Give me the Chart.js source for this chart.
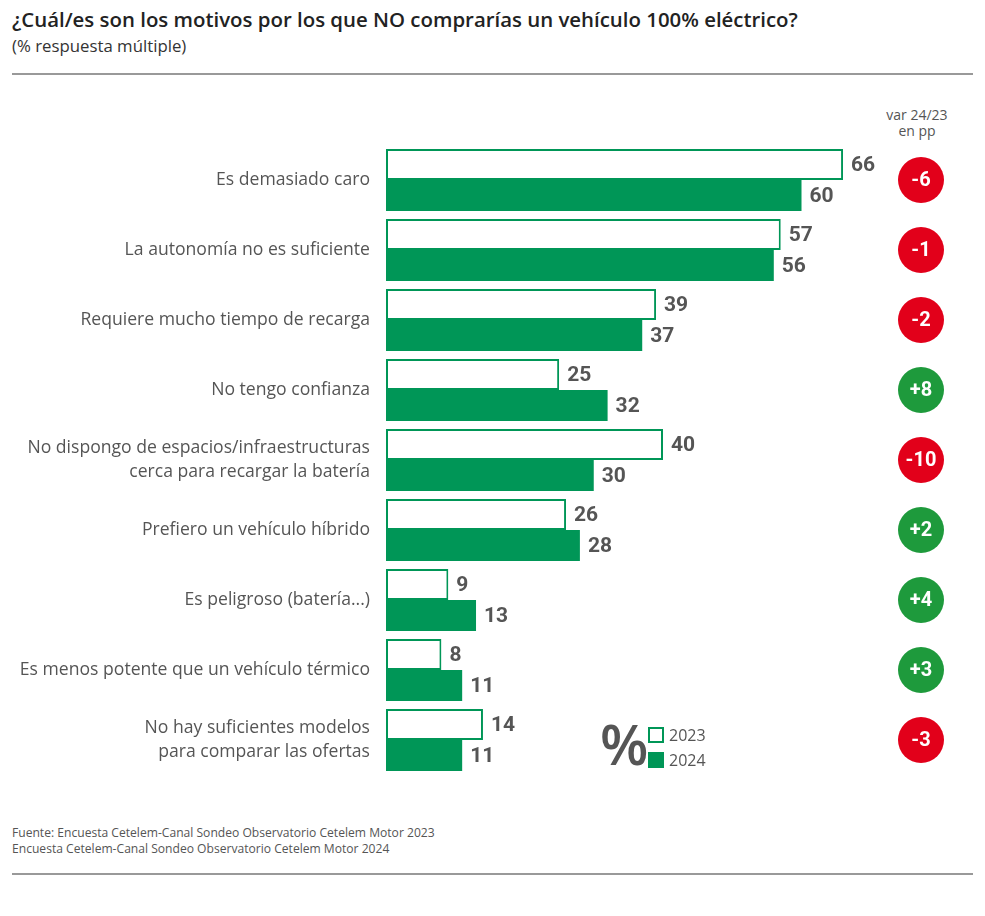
<!DOCTYPE html>
<html>
<head>
<meta charset="utf-8">
<script src="https://cdn.jsdelivr.net/npm/chart.js@4"></script>
<style>
  html,body{margin:0;padding:0;background:#fff;}
  body{width:985px;height:916px;position:relative;overflow:hidden;font-family:"Open Sans",sans-serif;}
  #title{position:absolute;left:12px;top:5px;font-size:20.4px;font-weight:600;color:#222;white-space:nowrap;}
  #sub{position:absolute;left:12px;top:34px;font-size:16.8px;color:#333;white-space:nowrap;}
  .hr{position:absolute;left:12px;width:961px;height:2px;background:#999;}
  #foot{position:absolute;left:12px;top:825px;font-size:12.1px;line-height:16px;color:#555;white-space:nowrap;}
  #varh{position:absolute;left:872px;width:90px;top:107px;text-align:center;font-size:14px;line-height:16px;color:#555;}
  #cwrap{position:absolute;left:0;top:100px;width:985px;height:700px;}
  #pct{position:absolute;left:600px;top:708px;font-size:56px;line-height:70px;color:#555;font-weight:600;}
  .lg{position:absolute;left:648px;width:16px;height:16px;box-sizing:border-box;border:2px solid #009657;}
  .lt{position:absolute;left:669px;font-size:16px;line-height:18px;color:#555;}
</style>
</head>
<body>
<div id="title">¿Cuál/es son los motivos por los que NO comprarías un vehículo 100% eléctrico?</div>
<div id="sub">(% respuesta múltiple)</div>
<div class="hr" style="top:73px"></div>
<div id="varh">var 24/23<br>en pp</div>
<div id="cwrap"><canvas id="c" width="985" height="700"></canvas></div>
<div id="pct">%</div>
<div class="lg" style="top:727px;background:#fff"></div>
<div class="lt" style="top:726px">2023</div>
<div class="lg" style="top:752px;background:#009657"></div>
<div class="lt" style="top:751px">2024</div>
<div id="foot">Fuente: Encuesta Cetelem-Canal Sondeo Observatorio Cetelem Motor 2023<br>Encuesta Cetelem-Canal Sondeo Observatorio Cetelem Motor 2024</div>
<div class="hr" style="top:873px"></div>
<script>
const categories = [
  "Es demasiado caro",
  "La autonomía no es suficiente",
  "Requiere mucho tiempo de recarga",
  "No tengo confianza",
  ["No dispongo de espacios/infraestructuras", "cerca para recargar la batería"],
  "Prefiero un vehículo híbrido",
  "Es peligroso (batería...)",
  "Es menos potente que un vehículo térmico",
  ["No hay suficientes modelos", "para comparar las ofertas"]
];
const values2023 = [66, 57, 39, 25, 40, 26, 9, 8, 14];
const values2024 = [60, 56, 37, 32, 30, 28, 13, 11, 11];
const variation = [-6, -1, -2, 8, -10, 2, 4, 3, -3];

const GREEN = "#009657";
const labelPlugin = {
  id: "labels",
  afterDatasetsDraw(chart) {
    const ctx = chart.ctx;
    ctx.save();
    ctx.font = "bold 21px Roboto, sans-serif";
    ctx.fillStyle = "#555";
    ctx.textAlign = "left";
    ctx.textBaseline = "middle";
    chart.data.datasets.forEach((ds, di) => {
      const meta = chart.getDatasetMeta(di);
      meta.data.forEach((el, i) => {
        ctx.fillText(String(ds.data[i]), el.x + 8, el.y + 1);
      });
    });
    const ys = chart.scales.y;
    const cx = chart.chartArea.right - 19;
    variation.forEach((v, i) => {
      const cy = ys.getPixelForValue(i);
      ctx.beginPath();
      ctx.arc(cx, cy, 23, 0, Math.PI * 2);
      ctx.fillStyle = v < 0 ? "#e2001a" : "#1e9a3c";
      ctx.fill();
      ctx.fillStyle = "#fff";
      ctx.font = "bold 20px Roboto, sans-serif";
      ctx.textAlign = "center";
      ctx.fillText((v > 0 ? "+" : "") + v, cx, cy + 1);
    });
    ctx.restore();
  }
};

new Chart(document.getElementById("c"), {
  type: "bar",
  data: {
    labels: categories,
    datasets: [
      { label: "2023", data: values2023, backgroundColor: "#fff", borderColor: GREEN, borderWidth: 2, borderSkipped: false },
      { label: "2024", data: values2024, backgroundColor: GREEN, borderColor: GREEN, borderWidth: 0 }
    ]
  },
  options: {
    indexAxis: "y",
    responsive: false,
    animation: false,
    layout: { padding: { top: 45, bottom: 25, left: 0, right: 45 } },
    datasets: { bar: { categoryPercentage: 0.886, barPercentage: 1.0 } },
    plugins: { legend: { display: false }, tooltip: { enabled: false } },
    scales: {
      x: { display: false, min: 0, max: 80, grid: { display: false } },
      y: {
        grid: { display: false },
        border: { display: false },
        afterFit(s) { s.width = 386; },
        ticks: { color: "#555", font: { family: "Open Sans", size: 17.6, lineHeight: 1.4 }, padding: 8 }
      }
    }
  },
  plugins: [labelPlugin]
});
</script>
</body>
</html>
